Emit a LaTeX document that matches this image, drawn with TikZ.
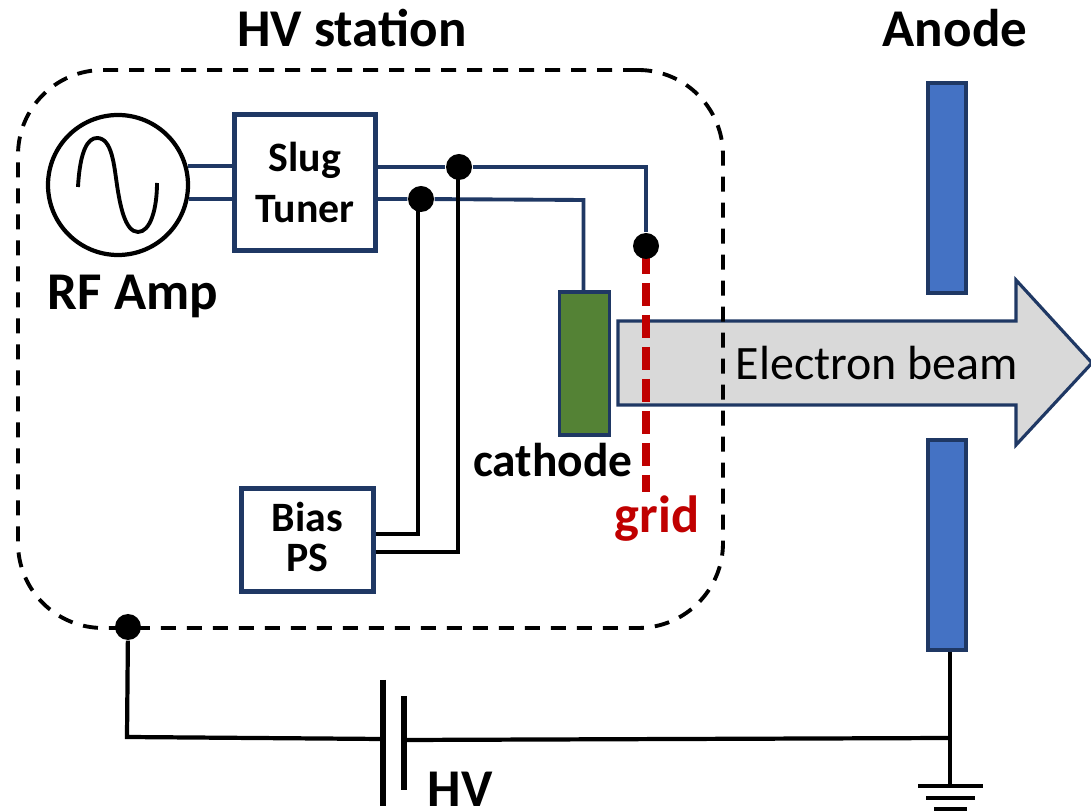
\documentclass[tikz,border=0pt]{standalone}
\usepackage{fontspec}
\setmainfont{Carlito}
\definecolor{wirenavy}{HTML}{1F3864}
\definecolor{platebl}{HTML}{4472C4}
\definecolor{cathgreen}{HTML}{548235}
\definecolor{gridred}{HTML}{C00000}
\definecolor{beamgray}{HTML}{D9D9D9}
\tikzset{
	wire/.style={draw=wirenavy, line width=1.1pt},
	lead/.style={draw=black, line width=1.2pt},
	tap/.style={circle, fill=black, minimum size=0.26cm, inner sep=0pt},
	boxnode/.style={draw=wirenavy, line width=1.2pt, fill=white, align=center, inner sep=0pt, font=\fontsize{11.9pt}{14.7pt}\selectfont\bfseries},
	platenode/.style={draw=wirenavy, line width=1.1pt, inner sep=0pt, fill=platebl, minimum width=0.38cm, minimum height=2.10cm},
	biglabel/.style={font=\fontsize{15.1pt}{17pt}\selectfont\bfseries, inner sep=0pt}
}

\begin{document}
\begin{tikzpicture}
	\useasboundingbox (0, 0) rectangle (10.91, 8.11);
	%%%%% BEAM %%%%%
	\draw[wirenavy, line width=0.9pt, fill=beamgray] (6.18, 4.90) -- (10.16, 4.90) -- (10.16, 5.31) -- (10.92, 4.48) -- (10.16, 3.66) -- (10.16, 4.06) -- (6.18, 4.06) -- cycle;
	\node[inner sep=0pt, font=\fontsize{13.65pt}{16pt}\selectfont] (beamtext) at (8.77, 4.48) {Electron beam};

	%%%%% STATION %%%%%
	\node[draw=black, line width=1.1pt, dash pattern=on 0.15cm off 0.11cm, rounded corners=0.85cm, minimum width=7.05cm, minimum height=5.58cm] (station) at (3.705, 4.62) {};
	\node[biglabel] (stationtext) at (3.52, 7.83) {HV station};

	\node[circle, draw=black, line width=1.2pt, minimum size=1.40cm, inner sep=0pt] (amp) at (1.18, 6.26) {};
	\draw[line width=1.1pt] (0.78, 6.24) .. controls (0.80, 6.61) and (0.88, 6.73) .. (0.97, 6.73) .. controls (1.12, 6.73) and (1.14, 6.46) .. (1.17, 6.26) .. controls (1.20, 6.06) and (1.25, 5.79) .. (1.38, 5.79) .. controls (1.50, 5.79) and (1.57, 6.01) .. (1.57, 6.28);
	\node[biglabel] (amptext) at (1.33, 5.15) {RF Amp};

	\node[boxnode, minimum width=1.41cm, minimum height=1.36cm] (slug) at (3.05, 6.285) {Slug\\Tuner};
	\node[boxnode, minimum width=1.32cm, minimum height=1.03cm, font=\fontsize{11.9pt}{11.4pt}\selectfont\bfseries] (bias) at (3.075, 2.71) {Bias\\PS\rule[-1.7pt]{0pt}{1.7pt}};

	\node[draw=wirenavy, line width=1.1pt, fill=cathgreen, inner sep=0pt, minimum width=0.50cm, minimum height=1.43cm] (cathode) at (5.845, 4.475) {};
	\node[inner sep=0pt, font=\fontsize{13.5pt}{15pt}\selectfont\bfseries] (cathodetext) at (5.53, 3.51) {cathode};

	\coordinate (gridtop) at (6.46, 5.60);
	\coordinate (gridend) at (6.46, 3.19);
	\draw[gridred, line width=2.1pt, dash pattern=on 0.23cm off 0.09cm] (gridtop) -- (gridend);
	\node[inner sep=0pt, text=gridred, font=\fontsize{14.9pt}{16pt}\selectfont\bfseries] (gridtext) at (6.57, 2.92) {grid};

	\node[tap] (tapa) at (4.59, 6.44) {};
	\node[tap] (tapb) at (4.21, 6.12) {};
	\node[tap] (tapgrid) at (6.46, 5.65) {};
	\coordinate (benda) at (6.46, 6.44);
	\coordinate (bendb) at (5.835, 6.11);
	\coordinate (biasa) at (4.18, 2.77);
	\coordinate (biasb) at (4.58, 2.59);

	\draw[wire] (amp.15) -- (amp.15 -| slug.west);
	\draw[wire] (amp.-11) -- (amp.-11 -| slug.west);
	\draw[wire] (slug.east |- tapa) -- (tapa) -- (benda) -- (tapgrid);
	\draw[wire] (slug.east |- tapb) -- (tapb) -- (bendb) -- (bendb |- cathode.north);
	\draw[lead] (bias.east |- biasa) -- (biasa) -- (biasa |- tapb);
	\draw[lead] (bias.east |- biasb) -- (biasb) -- (biasb |- tapa);

	%%%%% ANODE %%%%%
	\node[biglabel] (anodetext) at (9.55, 7.83) {Anode};
	\node[platenode] (anodeup) at (9.47, 6.23) {};
	\node[platenode] (anodelow) at (9.47, 2.66) {};

	%%%%% SUPPLY %%%%%
	\node[tap] (tapbase) at (1.28, 1.84) {};
	\coordinate (corner) at (1.27, 0.74);
	\coordinate (join) at (9.50, 0.73);
	\coordinate (groundtop) at (9.50, 0.25);
	\node[inner sep=0pt, minimum size=0pt] (platea) at (3.83, 0.72) {};
	\node[inner sep=0pt, minimum size=0pt] (plateb) at (4.04, 0.71) {};
	\draw[line width=1.2pt] (tapbase) -- (corner) -- (platea);
	\draw[line width=1.2pt] (plateb) -- (join);
	\draw[line width=1.5pt] (3.83, 1.31) -- (3.83, 0.05);
	\draw[line width=1.5pt] (4.04, 1.15) -- (4.04, 0.21);
	\node[biglabel] (hvtext) at (4.60, 0.22) {HV};

	\draw[line width=1.2pt] (groundtop |- anodelow.south) -- (groundtop);
	\draw[line width=1.2pt] (9.18, 0.25) -- (9.83, 0.25);
	\draw[line width=1.2pt] (9.26, 0.13) -- (9.75, 0.13);
	\draw[line width=1.2pt] (9.34, 0.02) -- (9.67, 0.02);
\end{tikzpicture}
\end{document}
